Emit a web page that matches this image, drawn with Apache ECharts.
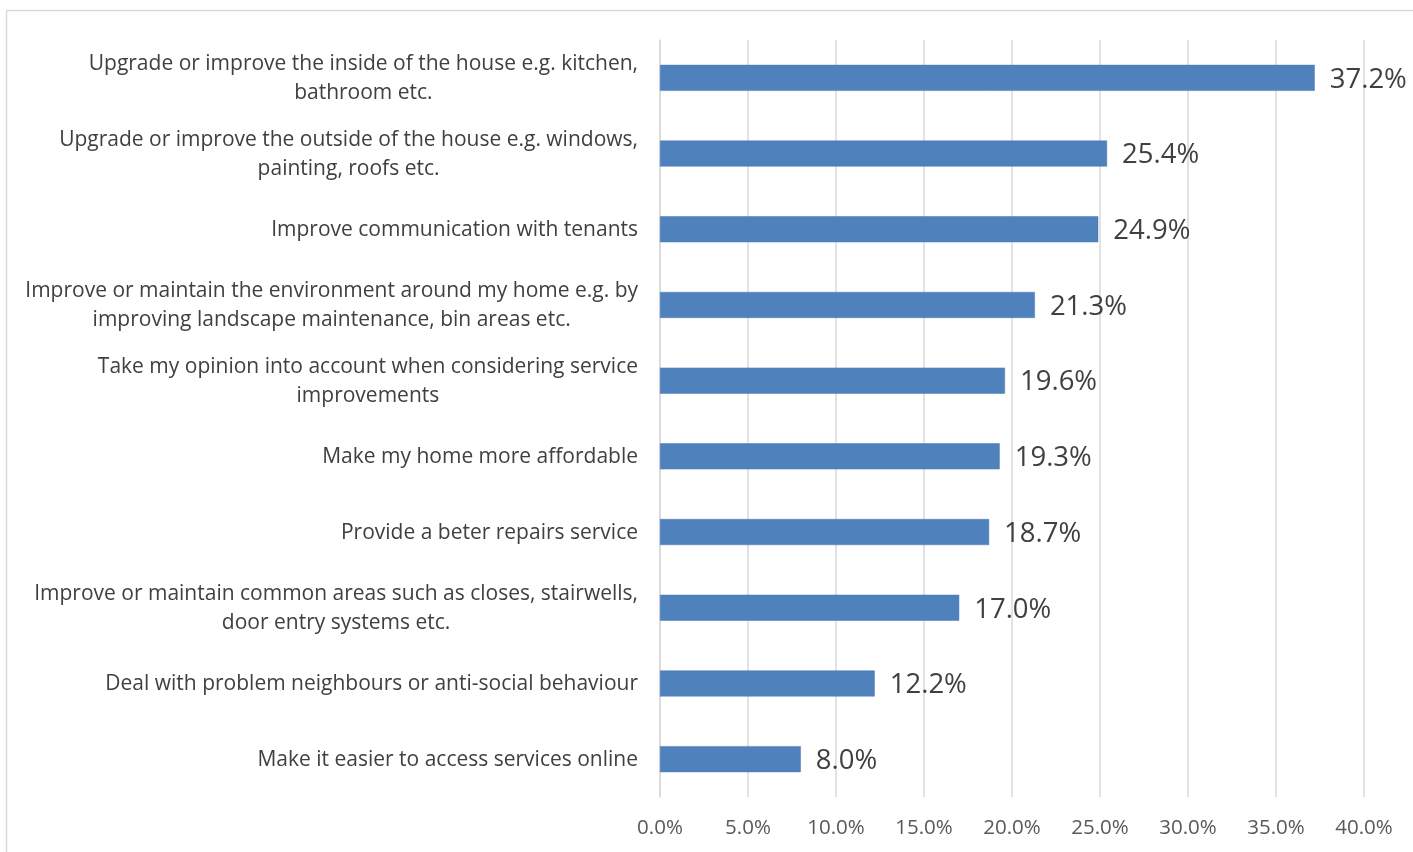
<!DOCTYPE html>
<html>
<head>
<meta charset="utf-8">
<script src="https://cdn.jsdelivr.net/npm/echarts@6/dist/echarts.min.js"></script>
<style>
  html, body { margin: 0; padding: 0; background: #ffffff; }
  #chart { width: 1413px; height: 852px; }
</style>
</head>
<body>
<div id="chart"></div>
<script>
// Survey answers: what the landlord should prioritise (share of tenants)
const categories = [
  'Upgrade or improve the inside of the house e.g. kitchen,\nbathroom etc.',
  'Upgrade or improve the outside of the house e.g. windows,\npainting, roofs etc.',
  'Improve communication with tenants',
  'Improve or maintain the environment around my home e.g. by\nimproving landscape maintenance, bin areas etc.',
  'Take my opinion into account when considering service\nimprovements',
  'Make my home more affordable',
  'Provide a beter repairs service',
  'Improve or maintain common areas such as closes, stairwells,\ndoor entry systems etc.',
  'Deal with problem neighbours or anti-social behaviour',
  'Make it easier to access services online'
];
const percentages = [37.2, 25.4, 24.9, 21.3, 19.6, 19.3, 18.7, 17.0, 12.2, 8.0];
const axisMax = 40;
const axisStep = 5;

const FONT = '"Open Sans", Lato, sans-serif';
const chart = echarts.init(document.getElementById('chart'), null, { renderer: 'canvas' });

chart.setOption({
  backgroundColor: '#ffffff',
  animation: false,
  graphic: [{
    type: 'rect',
    shape: { x: 6.5, y: 10.5, width: 1440, height: 900 },
    style: { fill: 'none', stroke: '#d9d9d9', lineWidth: 1.5 },
    silent: true
  }],
  grid: { left: 660, right: 49, top: 40, bottom: 55, containLabel: false },
  xAxis: {
    type: 'value',
    min: 0,
    max: axisMax,
    interval: axisStep,
    axisLine: { show: false },
    axisTick: { show: false },
    splitLine: { show: true, lineStyle: { color: '#d9d9d9', width: 1.5 } },
    axisLabel: {
      color: '#595959',
      fontFamily: FONT,
      fontSize: 20.5,
      margin: 21,
      formatter: v => v.toFixed(1) + '%'
    }
  },
  yAxis: {
    type: 'category',
    inverse: true,
    data: categories,
    axisLine: { show: true, lineStyle: { color: '#d9d9d9', width: 1.5 } },
    axisTick: { show: false },
    axisLabel: {
      color: '#404040',
      fontFamily: FONT,
      fontSize: 21,
      margin: 22,
      lineHeight: 29,
      formatter: v => v.split('\n').map(s => '{c|' + s + '}').join('\n'),
      rich: {
        c: { align: 'center', color: '#404040', fontFamily: FONT, fontSize: 21, lineHeight: 29, padding: [2, 0, 0, 0] }
      }
    }
  },
  series: [{
    type: 'bar',
    data: percentages,
    barWidth: 26,
    itemStyle: { color: '#4f81bd', borderColor: '#4a7ab5', borderWidth: 0.5 },
    label: {
      show: true,
      position: 'right',
      distance: 15,
      offset: [0, 2],
      color: '#404040',
      fontFamily: FONT,
      fontSize: 27.5,
      formatter: p => p.value.toFixed(1) + '%'
    }
  }]
});
</script>
</body>
</html>
